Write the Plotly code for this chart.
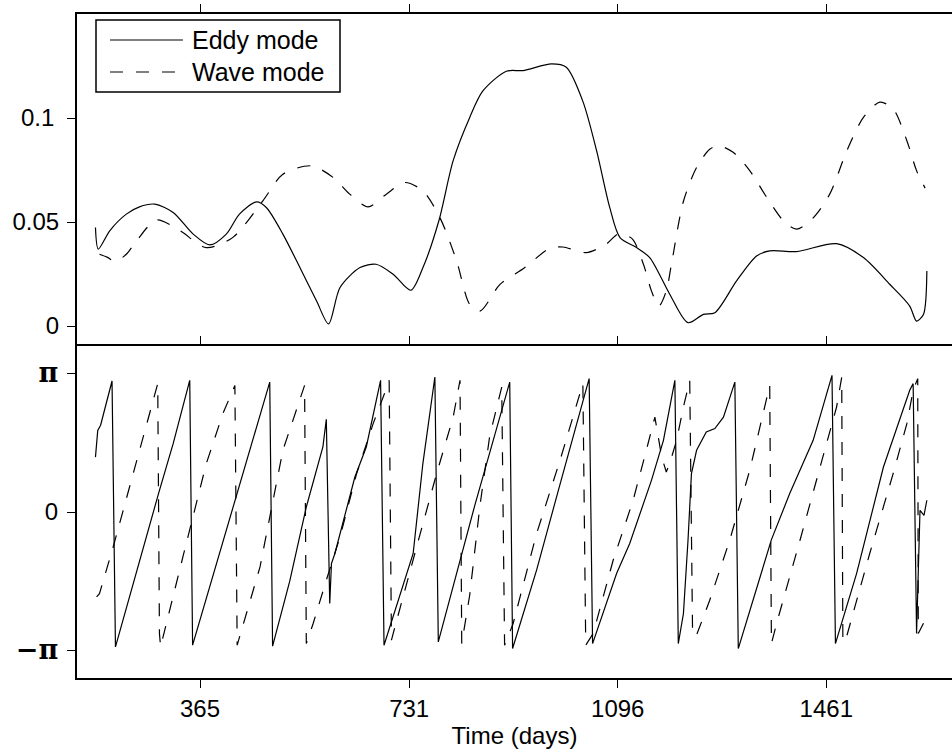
import numpy as np
import plotly.graph_objects as go

# ---------------- data ----------------
series_names = ["Eddy mode", "Wave mode"]

eddy_amp_days = [182, 187, 207, 236, 259, 286, 318, 353, 382, 411, 434, 464, 481,
                 510, 540, 569, 590, 610, 645, 673, 703, 734, 755, 783, 808, 837,
                 860, 901, 930, 980, 1006, 1035, 1059, 1082, 1100, 1129, 1152, 1187,
                 1219, 1246, 1266, 1304, 1339, 1362, 1409, 1479, 1526, 1572, 1607,
                 1619, 1631, 1637]
eddy_amp = [0.0474, 0.037, 0.0458, 0.0538, 0.0573, 0.0586, 0.0546, 0.0442, 0.039,
            0.0442, 0.0538, 0.0597, 0.057, 0.0442, 0.028, 0.012, 0.001, 0.0185,
            0.0281, 0.0297, 0.0249, 0.0172, 0.028, 0.0506, 0.0795, 0.1003, 0.113,
            0.1225, 0.1228, 0.126, 0.1244, 0.108, 0.0843, 0.057, 0.0425, 0.0377,
            0.0329, 0.0153, 0.0016, 0.0056, 0.0064, 0.0217, 0.0337, 0.0361, 0.0358,
            0.0396, 0.0329, 0.0201, 0.0096, 0.0024, 0.0056, 0.0265]

wave_amp_days = [189, 203, 216, 236, 254, 289, 330, 376, 422, 475, 510, 560, 598,
                 627, 659, 691, 723, 755, 785, 814, 837, 855, 890, 933, 977, 1000,
                 1041, 1076, 1097, 1121, 1141, 1155, 1168, 1181, 1190, 1211, 1234,
                 1257, 1272, 1298, 1327, 1357, 1386, 1409, 1438, 1467, 1497, 1526,
                 1555, 1578, 1602, 1619, 1634]
wave_amp = [0.0345, 0.033, 0.031, 0.0345, 0.041, 0.051, 0.0458, 0.0377, 0.0425,
            0.0602, 0.073, 0.077, 0.0714, 0.0634, 0.0573, 0.0634, 0.069, 0.065,
            0.052, 0.0313, 0.0104, 0.0072, 0.020, 0.028, 0.0374, 0.038, 0.0353,
            0.0394, 0.0442, 0.042, 0.0297, 0.0169, 0.0096, 0.0169, 0.0297, 0.060,
            0.0762, 0.085, 0.0867, 0.0835, 0.0747, 0.0618, 0.0506, 0.0466, 0.052,
            0.0634, 0.0843, 0.1003, 0.1076, 0.1044, 0.0891, 0.0747, 0.0663]

eddy_phase_days = [182, 186, 191, 198, 211, 217, 248, 294, 318, 347, 352, 385,
                   423, 455, 487, 492, 522, 551, 580, 586, 592, 595, 601, 636, 656,
                   681, 687, 738, 755, 776, 782, 846, 907, 912, 954, 995, 1046, 1052,
                   1094, 1117, 1135, 1155, 1176, 1196, 1202, 1211, 1219, 1225, 1234,
                   1251, 1266, 1281, 1301, 1307, 1365, 1397, 1438, 1471, 1477, 1514,
                   1561, 1596, 1607, 1613, 1619, 1625, 1632, 1637]
eddy_phase = [1.247, 1.854, 1.970, 2.309, 2.975, -3.063, -1.624, 0.493,
              1.552, 2.991, -3.025, -1.571, 0.113, 1.571, 2.950, -3.047, -1.571,
              0.113, 1.477, 2.105, -2.080, -1.172, -0.942, 0.795, 1.477, 2.991,
              -3.025, -0.942, 1.100, 3.066, -2.950, 0.157, 2.950, -3.101, -1.319,
              0.628, 3.029, -2.988, -1.398, -0.716, -0.038, 0.719, 1.627, 2.991,
              -2.988, -2.306, -0.641, 0.870, 1.401, 1.816, 1.894, 2.155, 2.950,
              -3.101, -0.628, 0.418, 1.627, 3.104, -2.988, -1.398, 1.021, 2.384,
              2.765, 2.915, -2.761, 0.038, -0.075, 0.267]

wave_phase_days = [184, 189, 213, 248, 271, 291, 294, 296, 335, 376, 405, 426, 430,
                   470, 510, 548, 551, 563, 586, 610, 639, 668, 691, 696, 700, 703,
                   744, 779, 808, 820, 823, 837, 855, 872, 893, 898, 913, 954, 995,
                   1035, 1040, 1053, 1088, 1123, 1146, 1161, 1173, 1181, 1187, 1199,
                   1211, 1222, 1227, 1233, 1257, 1292, 1327, 1362, 1365, 1374, 1415,
                   1450, 1479, 1488, 1490, 1494, 1537, 1578, 1602, 1613, 1621, 1622,
                   1634]
wave_phase = [-1.929, -1.854, -0.795, 0.870, 1.929, 2.915, -2.761, -3.063, -1.021,
              1.100, 2.234, 2.875, -3.025, -1.247, 1.401, 2.875, -2.988, -2.532,
              -1.549, -0.565, 0.870, 2.007, 2.799, 2.991, -2.912, -2.761, -0.795,
              0.870, 2.155, 2.991, -2.988, -1.885, 0.157, 1.728, 2.837, -3.025,
              -2.532, -0.490, 1.172, 2.915, -3.025, -2.761, -1.096, 0.267, 1.401,
              2.155, 1.247, 0.908, 1.100, 1.627, 2.384, 2.991, -2.761, -2.827,
              -2.004, -0.641, 0.946, 2.875, -2.988, -2.532, -0.641, 1.021, 2.384,
              3.063, -2.912, -2.950, -0.942, 0.870, 2.007, 2.765, 3.029, -2.761,
              -2.450]

x_tick_vals = [365, 731, 1096, 1461]
amp_tick_vals = [0, 0.05, 0.1]
amp_tick_text = ["0", "0.05", "0.1\u2009"]
phase_tick_vals = [-np.pi, 0, np.pi]
PI_STYLE = "font-family:DejaVu Serif;font-size:27px"
phase_tick_text = [f"<span style='{PI_STYLE}'><b>\u2212\u03c0</b></span>",
                   "0",
                   f"<span style='{PI_STYLE}'><b>\u03c0</b></span>"]
x_range = [149.7, 1681.0]
amp_range = [-0.0096, 0.15]
phase_range = [-1.2 * np.pi, 1.2 * np.pi]

# ---------------- layout constants ----------------
W, H = 952, 751
ML, MR, MT, MB = 77, 0, 14, 73
PW, PH = W - ML - MR, H - MT - MB
FONT = "Liberation Sans, Arial, Helvetica, sans-serif"
FS = 24
LW = 1.2
DASH = "13px,13px"


def fx(px):
    return (px - ML) / PW


def fy(py):
    return (H - MB - py) / PH


fig = go.Figure()
fig.add_trace(go.Scatter(x=eddy_amp_days, y=eddy_amp, mode="lines", name=series_names[0],
                         line=dict(color="black", width=LW, shape="spline", smoothing=0.8),
                         xaxis="x", yaxis="y", showlegend=False))
fig.add_trace(go.Scatter(x=wave_amp_days, y=wave_amp, mode="lines", name=series_names[1],
                         line=dict(color="black", width=LW, dash=DASH, shape="spline", smoothing=0.8),
                         xaxis="x", yaxis="y", showlegend=False))
fig.add_trace(go.Scatter(x=eddy_phase_days, y=eddy_phase, mode="lines", name=series_names[0],
                         line=dict(color="black", width=LW),
                         xaxis="x2", yaxis="y2", showlegend=False))
fig.add_trace(go.Scatter(x=wave_phase_days, y=wave_phase, mode="lines", name=series_names[1],
                         line=dict(color="black", width=LW, dash=DASH),
                         xaxis="x2", yaxis="y2", showlegend=False))

axis_common = dict(showgrid=False, zeroline=False, showline=True, linecolor="black",
                   linewidth=2, ticks="outside", ticklen=8, tickwidth=1, tickcolor="black",
                   tickfont=dict(family=FONT, size=FS, color="black"))

fig.update_layout(
    width=W, height=H,
    margin=dict(l=ML, r=MR, t=MT, b=MB, pad=0),
    paper_bgcolor="white", plot_bgcolor="white",
    font=dict(family=FONT, size=FS, color="black"),
    showlegend=False,
    xaxis=dict(domain=[0, 1], anchor="y", side="top", range=x_range, tickvals=x_tick_vals,
               showticklabels=False, mirror=False, **axis_common),
    yaxis=dict(domain=[0.5, 1], anchor="x", range=amp_range, tickvals=amp_tick_vals,
               ticktext=amp_tick_text, mirror=False, ticklabelstandoff=3, **axis_common),
    xaxis2=dict(domain=[0, 1], anchor="y2", side="bottom", range=x_range,
                tickvals=x_tick_vals, ticktext=[str(v) for v in x_tick_vals],
                mirror="ticks", ticklabelstandoff=0,
                title=dict(text="Time (days)", font=dict(family=FONT, size=FS), standoff=6),
                **axis_common),
    yaxis2=dict(domain=[0, 0.5], anchor="x2", range=phase_range, tickvals=phase_tick_vals,
                ticktext=phase_tick_text, mirror=False, ticklabelstandoff=4, **axis_common),
)

# legend drawn as a framed box with sample lines
fig.add_shape(type="rect", xref="paper", yref="paper", x0=fx(96), x1=fx(340),
              y0=fy(92), y1=fy(20), line=dict(color="black", width=1.5), fillcolor="white",
              layer="above")
legend_rows = [(40, None), (72, DASH)]
for name, (py, dash) in zip(series_names, legend_rows):
    fig.add_shape(type="line", xref="paper", yref="paper", x0=fx(110), x1=fx(183),
                  y0=fy(py), y1=fy(py), layer="above",
                  line=dict(color="black", width=LW, dash=dash if dash else "solid"))
    fig.add_annotation(xref="paper", yref="paper", x=fx(190), y=fy(py), text=name,
                       showarrow=False, xanchor="left", yanchor="middle",
                       font=dict(family=FONT, size=FS + 1, color="black"))

fig.write_html("out.html", config={"displayModeBar": False},
               post_script="document.body.style.margin='0px';document.body.style.overflow='hidden';")
